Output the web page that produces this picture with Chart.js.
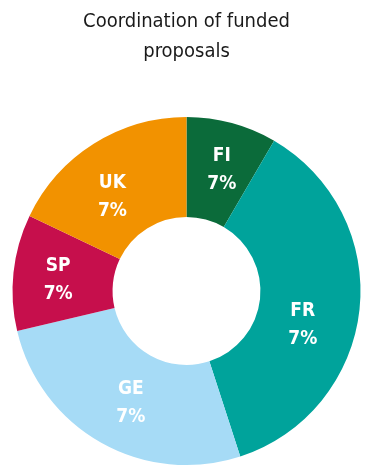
<!DOCTYPE html>
<html>
<head>
<meta charset="utf-8">
<script src="https://cdn.jsdelivr.net/npm/chart.js@4"></script>
<style>
  html, body { margin: 0; padding: 0; background: #ffffff; }
  #wrap { width: 373px; height: 466px; }
</style>
</head>
<body>
<div id="wrap"><canvas id="chart"></canvas></div>
<script>
// Countries coordinating funded proposals
const countries = ['FI', 'FR', 'GE', 'SP', 'UK'];
// Share of the ring each country occupies (percent)
const shares = [8.4, 36.6, 26.3, 10.8, 17.9];
// Percentage text printed on each segment
const shareLabels = ['7%', '7%', '7%', '7%', '7%'];
const sliceColors = ['#0b6b3a', '#00a39b', '#a6dbf6', '#c60f4c', '#f29200'];

const FONT = "'Liberation Sans Narrow', 'DejaVu Sans Condensed', 'Open Sans', sans-serif";

// Writes the country code and its percentage in the middle of each segment,
// with a small hand-tuned shift per segment so the text sits comfortably.
const segmentLabels = {
  id: 'segmentLabels',
  afterDatasetsDraw(chart, args, opts) {
    const ctx = chart.ctx;
    const meta = chart.getDatasetMeta(0);
    const shift = opts.shift || [];
    ctx.save();
    ctx.fillStyle = '#ffffff';
    ctx.textAlign = 'center';
    ctx.textBaseline = 'middle';
    ctx.font = 'bold 19px ' + FONT;
    meta.data.forEach((arc, i) => {
      const p = arc.tooltipPosition();
      const [dx, dy] = shift[i] || [0, 0];
      const x = p.x + dx, y = p.y + dy;
      ctx.fillText(countries[i], x, y - 14);
      ctx.fillText(shareLabels[i], x, y + 14);
    });
    ctx.restore();
  }
};

new Chart(document.getElementById('chart'), {
  type: 'doughnut',
  data: {
    labels: countries,
    datasets: [{
      data: shares,
      backgroundColor: sliceColors,
      borderWidth: 0
    }]
  },
  options: {
    responsive: true,
    maintainAspectRatio: false,
    animation: false,
    cutout: '42.5%',
    layout: { padding: { top: 0, bottom: 1, left: 0, right: 0 } },
    plugins: {
      legend: { display: false },
      tooltip: { enabled: false },
      title: {
        display: true,
        text: ['Coordination of funded', 'proposals'],
        color: '#1a1a1a',
        font: { family: FONT, size: 20, weight: 'normal', lineHeight: 1.5 },
        padding: { top: 7, bottom: 50 }
      },
      segmentLabels: {
        shift: [[3, -1], [-7, 21], [5, 4], [-5, 2], [-8, 11]]
      }
    }
  },
  plugins: [segmentLabels]
});
</script>
</body>
</html>
